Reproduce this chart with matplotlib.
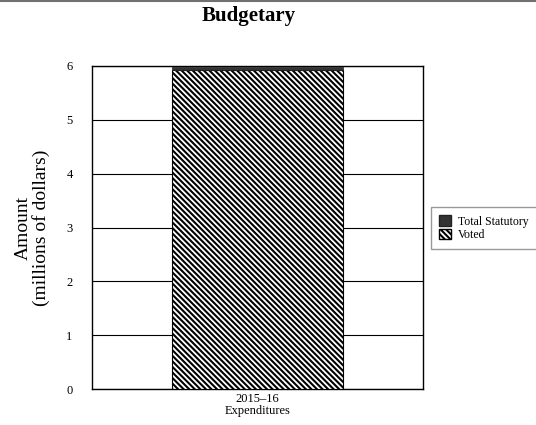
import matplotlib.pyplot as plt
from matplotlib.lines import Line2D
from matplotlib.patches import Patch

plt.rcParams['font.family'] = ['Liberation Serif', 'DejaVu Serif']
plt.rcParams['hatch.linewidth'] = 1.5

categories = ["2015\u201316\nExpenditures"]
voted = [5.93]
statutory = [0.05]
yticks = [0, 1, 2, 3, 4, 5, 6]

HATCH = "\\" * 6


def main():
    fig = plt.figure(figsize=(5.36, 4.25), dpi=100)
    ax = fig.add_axes([92 / 536, 1 - 389 / 425, 331 / 536, 323 / 425])

    x = list(range(len(categories)))
    ax.bar(x, voted, width=0.515, color="white", edgecolor="black",
           hatch=HATCH, linewidth=0.8, zorder=3)
    ax.bar(x, statutory, bottom=voted, width=0.515, color="#333333",
           edgecolor="#222222", linewidth=0.5, zorder=3)

    ax.set_xlim(-0.5, 0.5)
    ax.set_ylim(0, 6)
    ax.set_yticks(yticks)
    ax.set_xticks(x)
    ax.set_xticklabels(categories, fontsize=9, linespacing=1.0)
    ax.tick_params(axis="y", labelsize=9, length=0, pad=14)
    ax.tick_params(axis="x", length=0, pad=3)
    ax.yaxis.grid(True, color="black", linewidth=0.8, zorder=0)
    ax.set_axisbelow(True)
    for s in ax.spines.values():
        s.set_linewidth(1.0)
        s.set_color("black")

    ax.set_ylabel("Amount\n(millions of dollars)", fontsize=14, labelpad=12,
                  linespacing=1.0)
    fig.text(249 / 536, 1 - 16 / 425, "Budgetary", ha="center", va="center",
             fontsize=15, fontweight="bold")

    handles = [Patch(facecolor="#333333", edgecolor="#222222"),
               Patch(facecolor="white", edgecolor="black", hatch=HATCH)]
    fig.legend(handles, ["Total Statutory", "Voted"], loc="upper left",
               bbox_to_anchor=(431 / 536, 1 - 207 / 425), fontsize=8.5,
               frameon=True, fancybox=False, edgecolor="#808080",
               handlelength=1.0, handleheight=1.0, handletextpad=0.6,
               labelspacing=0.1, borderpad=0.7, borderaxespad=0)

    fig.add_artist(Line2D([0, 1], [0.998, 0.998], color="#707070",
                          linewidth=1.5, transform=fig.transFigure))

    fig.savefig("out.png", dpi=100)


if __name__ == "__main__":
    main()
